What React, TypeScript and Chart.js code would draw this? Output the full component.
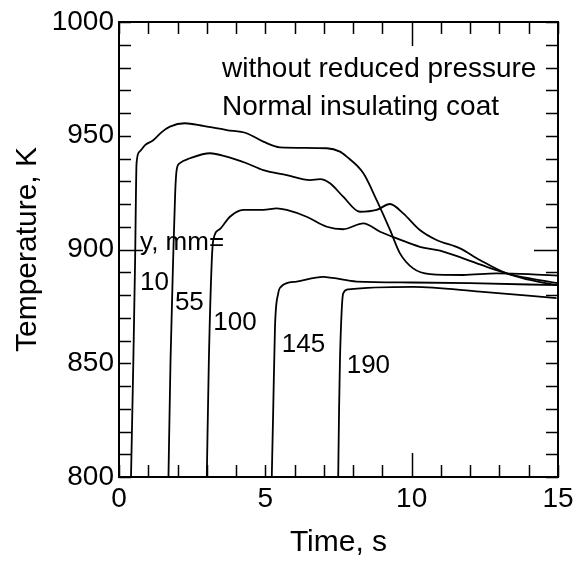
import React, { useEffect, useRef } from "react";
import { Chart, registerables } from "chart.js";
Chart.register(...registerables);

const FONT = "'Liberation Sans', Arial, Helvetica, sans-serif";

const xTickValues = [0, 5, 10, 15];
const yTickValues = [800, 850, 900, 950, 1000];

// y = 10 mm
const time10 = [0.41, 0.49, 0.55, 0.6, 0.7, 0.9, 1.17, 1.45, 1.74, 2.25, 2.88, 3.68, 4.36, 4.93, 5.5, 7.1, 7.55, 7.78, 8.35, 8.8, 9.26, 9.6, 10.05, 10.62, 11.76, 12.9, 14.0, 15.0];
const temp10 = [800, 851, 895, 938, 943, 946, 948, 951.5, 954, 955.5, 954.3, 952.5, 951.1, 947.4, 944.9, 944.5, 943, 940.8, 933.5, 921.8, 908.6, 898.3, 891.7, 889.2, 888.8, 889.5, 889.2, 888.5];

// y = 55 mm
const time55 = [1.69, 1.76, 1.86, 1.92, 1.97, 2.08, 2.43, 3.11, 3.68, 4.36, 4.93, 5.73, 6.53, 6.87, 7.21, 7.66, 8.23, 8.8, 9.26, 9.71, 10.28, 10.85, 11.65, 12.33, 13.25, 14.04, 15.0];
const temp55 = [800, 851, 900, 925, 935, 938, 940.1, 942.3, 940.8, 937.9, 934.9, 932.7, 930.5, 930.9, 929.1, 923.2, 916.6, 917.4, 920.0, 915.9, 908.6, 904.2, 900.5, 895.4, 889.5, 887.3, 885.2];

// y = 100 mm
const time100 = [3.0, 3.07, 3.17, 3.22, 3.45, 3.79, 4.25, 4.93, 5.39, 5.73, 6.41, 7.1, 7.66, 8.35, 8.92, 9.49, 10.28, 10.97, 11.76, 12.56, 13.25, 14.04, 15.0];
const temp100 = [800, 851, 895, 904, 909, 914.4, 917.4, 917.4, 918.1, 917.4, 914.4, 910.0, 908.9, 911.5, 907.8, 904.9, 901.2, 899.5, 896.1, 892.4, 889.5, 886.6, 884.2];

// y = 145 mm
const time145 = [5.22, 5.27, 5.33, 5.44, 5.55, 5.73, 6.07, 6.98, 7.3, 8.12, 10.0, 12.0, 15.0];
const temp145 = [800, 830, 866, 880.7, 883.8, 885.2, 885.9, 888.0, 887.5, 885.9, 885.5, 885.2, 884.3];

// y = 190 mm
const time190 = [7.49, 7.52, 7.55, 7.61, 7.66, 7.83, 10.06, 12.33, 14.95];
const temp190 = [800, 830, 851.4, 873.4, 880.7, 882.5, 883.6, 881.5, 878.6];

const seriesTimes = [time10, time55, time100, time145, time190];
const seriesTemps = [temp10, temp55, temp100, temp145, temp190];

// Curve labels (text, time, temperature of left/baseline)
const curveLabels = ["y, mm=", "10", "55", "100", "145", "190"];
const curveLabelTimes = [0.72, 0.72, 1.91, 3.22, 5.56, 7.78];
const curveLabelTemps = [899.8, 882.2, 873.4, 864.6, 855.1, 845.6];

const noteLines = ["without reduced pressure", "Normal insulating coat"];
const noteTimes = [3.52, 3.52];
const noteTemps = [975.8, 959.1];

const framePlugin = {
  id: "frameTicks",
  afterDatasetsDraw(chart: any) {
    const { ctx, chartArea, scales } = chart;
    const { left, right, top, bottom } = chartArea;
    const x = scales.x;
    const y = scales.y;
    ctx.save();
    ctx.strokeStyle = "#000";
    ctx.lineWidth = 2;
    ctx.strokeRect(left, top, right - left, bottom - top);
    ctx.lineWidth = 1.5;
    ctx.beginPath();
    for (let t = 0; t <= 15; t++) {
      const px = Math.round(x.getPixelForValue(t)) + 0.5;
      const len = t === 10 ? 24 : 12;
      ctx.moveTo(px, bottom);
      ctx.lineTo(px, bottom - len);
      ctx.moveTo(px, top);
      ctx.lineTo(px, top + len);
    }
    for (let v = 800; v <= 1000; v += 10) {
      const py = Math.round(y.getPixelForValue(v)) + 0.5;
      const len = v === 900 ? 24 : 12;
      ctx.moveTo(left, py);
      ctx.lineTo(left + len, py);
      ctx.moveTo(right, py);
      ctx.lineTo(right - len, py);
    }
    ctx.stroke();

    ctx.fillStyle = "#000";
    ctx.textAlign = "left";
    ctx.textBaseline = "alphabetic";
    ctx.font = `28px ${FONT}`;
    noteLines.forEach((s, i) => {
      ctx.fillText(s, x.getPixelForValue(noteTimes[i]), y.getPixelForValue(noteTemps[i]));
    });
    ctx.font = `26px ${FONT}`;
    curveLabels.forEach((s, i) => {
      ctx.fillText(s, x.getPixelForValue(curveLabelTimes[i]), y.getPixelForValue(curveLabelTemps[i]));
    });
    ctx.restore();
  },
};

export default function App() {
  const ref = useRef<HTMLCanvasElement | null>(null);
  useEffect(() => {
    document.body.style.margin = "0";
    if (!ref.current) return;
    const datasets = seriesTimes.map((ts, i) => ({
      label: curveLabels[i + 1],
      data: ts.map((t, j) => ({ x: t, y: seriesTemps[i][j] })),
      borderColor: "#000",
      borderWidth: 1.8,
      pointRadius: 0,
      fill: false,
      cubicInterpolationMode: "monotone" as const,
    }));
    const chart = new Chart(ref.current, {
      type: "line",
      data: { datasets },
      options: {
        animation: false,
        responsive: true,
        maintainAspectRatio: false,
        layout: { padding: { top: 22, right: 26, left: 0, bottom: 0 } },
        plugins: { legend: { display: false }, tooltip: { enabled: false } },
        scales: {
          x: {
            type: "linear",
            min: 0,
            max: 15,
            border: { display: false },
            grid: { display: false, drawTicks: false },
            afterBuildTicks: (s: any) => {
              s.ticks = xTickValues.map((v) => ({ value: v }));
            },
            afterFit: (s: any) => {
              s.height = 84;
            },
            ticks: { color: "#000", font: { family: FONT, size: 28 }, padding: 5, maxRotation: 0, callback: (v: any) => String(v) },
            title: { display: true, text: "Time, s", color: "#000", font: { family: FONT, size: 30 }, padding: { top: 0, bottom: 0 } },
          },
          y: {
            type: "linear",
            min: 800,
            max: 1000,
            border: { display: false },
            grid: { display: false, drawTicks: false },
            afterBuildTicks: (s: any) => {
              s.ticks = yTickValues.map((v) => ({ value: v }));
            },
            afterFit: (s: any) => {
              s.width = 119;
            },
            ticks: { color: "#000", font: { family: FONT, size: 28 }, padding: 5, callback: (v: any) => String(v) },
            title: { display: true, text: "Temperature, K", color: "#000", font: { family: FONT, size: 30 }, padding: { top: 10, bottom: 0 } },
          },
        },
      },
      plugins: [framePlugin],
    });
    return () => chart.destroy();
  }, []);
  return (
    <div style={{ position: "absolute", left: 0, top: 0, width: 584, height: 561, background: "#fff" }}>
      <canvas ref={ref} />
    </div>
  );
}
